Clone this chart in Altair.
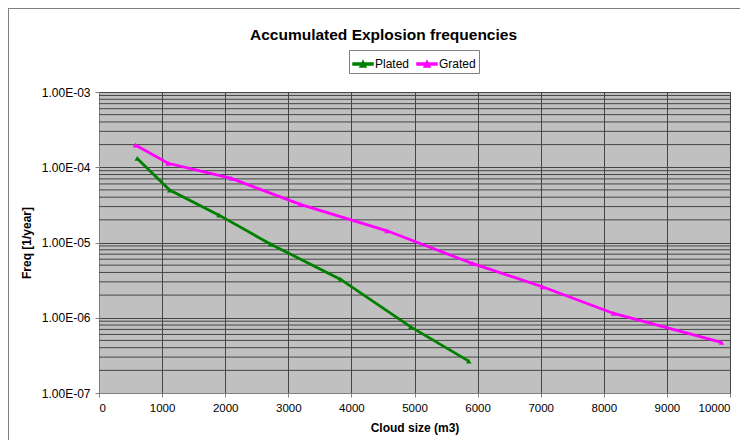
import altair as alt
import pandas as pd

plated_x = [606, 1120, 1902, 2721, 3830, 4940, 5860]
plated_y = [1.31e-4, 4.98e-5, 2.31e-5, 9.5e-6, 3.23e-6, 7.57e-7, 2.65e-7]
grated_x = [577, 1094, 2098, 3190, 4564, 5914, 7027, 8157, 9864]
grated_y = [1.97e-4, 1.13e-4, 7.11e-5, 3.21e-5, 1.43e-5, 5.27e-6, 2.58e-6, 1.14e-6, 4.70e-7]
series_names = ["Plated", "Grated"]
series_colors = ["#008000", "#FF00FF"]
x_ticks = [0, 1000, 2000, 3000, 4000, 5000, 6000, 7000, 8000, 9000, 10000]
y_decades = [1e-7, 1e-6, 1e-5, 1e-4, 1e-3]
minor_mult = [2, 3, 4, 5, 6, 7, 8, 9]

df = pd.concat([
    pd.DataFrame({"x": plated_x, "y": plated_y, "s": "Plated"}),
    pd.DataFrame({"x": grated_x, "y": grated_y, "s": "Grated"}),
])
minor = pd.DataFrame({"v": [m * d for d in y_decades[:-1] for m in minor_mult]})

FONT = "Liberation Sans"
GRID = "#454545"

xs = alt.Scale(domain=[0, 10000], nice=False, zero=False)
ys = alt.Scale(type="log", domain=[1e-7, 1e-3], nice=False)

xaxis = alt.Axis(values=x_ticks, format="d", grid=True, gridColor=GRID, gridWidth=1,
                 tickColor="#808080", tickSize=4, domainColor="#808080",
                 labelFont=FONT, labelFontSize=11.5, labelColor="#000", labelPadding=5,
                 title="Cloud size (m3)", titleFont=FONT, titleFontSize=12,
                 titleFontWeight="bold", titleColor="#000", titlePadding=9)
yaxis = alt.Axis(values=y_decades, grid=True, gridColor=GRID, gridWidth=1,
                 tickColor="#808080", tickSize=4, domainColor="#808080",
                 labelExpr="'1.00E-0' + round(-log(datum.value)/LN10)",
                 labelFont=FONT, labelFontSize=12, labelColor="#000", labelPadding=5,
                 title="Freq [1/year]", titleFont=FONT, titleFontSize=12,
                 titleFontWeight="bold", titleColor="#000", titlePadding=8)

grid = alt.Chart(minor).mark_rule(color=GRID, strokeWidth=1).encode(
    y=alt.Y("v:Q", scale=ys, axis=yaxis)
)

color = alt.Color("s:N", scale=alt.Scale(domain=series_names, range=series_colors),
                  legend=alt.Legend(orient="none", legendX=250, legendY=-42,
                                    direction="horizontal", title=None,
                                    strokeColor="#808080", fillColor="#ffffff",
                                    padding=3, labelFont=FONT, labelFontSize=12,
                                    labelColor="#000", symbolSize=400, columnPadding=4,
                                    symbolStrokeWidth=1.5, labelOffset=1,
                                    symbolType="M-1,-0.1H1V0.1H-1Z M-0.3,0.3L0,-0.3L0.3,0.3Z"))

base = alt.Chart(df).encode(
    x=alt.X("x:Q", scale=xs, axis=xaxis),
    y=alt.Y("y:Q", scale=ys, axis=yaxis),
    color=color,
)
lines = base.mark_line(strokeWidth=2.8)
pts = base.mark_point(shape="triangle-up", filled=True, size=30, opacity=1)

border = alt.Chart(minor).mark_rect(fill="transparent", stroke="#808080", strokeWidth=1).encode(
    x=alt.value(-90.5), x2=alt.value(700), y=alt.value(-83.5), y2=alt.value(400)
)

chart = alt.layer(grid, lines, pts, border).properties(
    width=631, height=301,
    view=alt.ViewBackground(fill="#C0C0C0", stroke="#A0A0A0"),
    autosize=alt.AutoSizeParams(type="none"),
    padding={"left": 91, "top": 84, "right": 10, "bottom": 47},
    title=alt.TitleParams("Accumulated Explosion frequencies", font=FONT, fontSize=15.5,
                          fontWeight="bold", color="#000", anchor="middle", dx=-31,
                          offset=-35),
).configure_view(fill="#C0C0C0", stroke="#A0A0A0").configure(background="#ffffff")

chart.save("out.html", embed_options={"renderer": "svg", "actions": False})
